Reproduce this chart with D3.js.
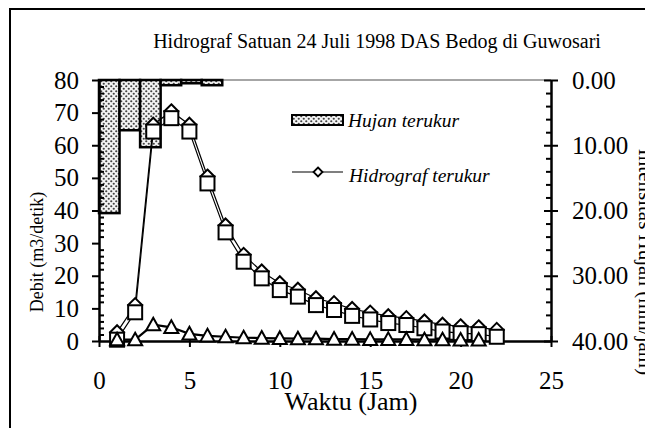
<!DOCTYPE html>
<html><head><meta charset="utf-8">
<script src="https://cdn.jsdelivr.net/npm/d3@7"></script>
<style>body{margin:0;background:#fff}svg{display:block}</style>
</head><body>
<svg id="c" width="645" height="428"></svg>
<script>
// ---- data ----
const hours = [1,2,3,4,5,6,7,8,9,10,11,12,13,14,15,16,17,18,19,20,21,22];
const hidrografTerukur = [2.7,11.0,66.3,70.4,66.3,50.4,35.4,26.4,21.3,17.7,15.7,13.1,11.6,9.8,8.7,7.6,7.0,6.0,5.0,4.5,4.2,3.4];
const hidrografSquare  = [0.4,8.8,64.2,68.3,64.2,48.3,33.3,24.3,19.2,15.6,13.6,11.0,9.5,7.7,6.6,5.5,4.9,3.9,2.9,2.4,2.1,1.3];
const hoursTri = [1,2,3,4,5,6,7,8,9,10,11,12,13,14,15,16,17,18,19,20,21];
const hidrografTri = [0.4,0.4,5.0,4.2,2.2,1.6,1.3,1.0,0.9,0.8,0.7,0.7,0.6,0.6,0.5,0.5,0.5,0.4,0.4,0.3,0.3];
const rainPeriods = [1,2,3,4,5,6,7,8,9,10,11,12,13,14,15,16,17,18,19,20,21,22];
const rainValues = [20.4,7.7,10.3,0.8,0.5,0.8,0,0,0,0,0,0,0,0,0,0,0,0,0,0,0,0];
const xTicks = [0,5,10,15,20,25];
const yLeftTicks = [0,10,20,30,40,50,60,70,80];
const yRightTicks = [0,10,20,30,40];
const title = "Hidrograf Satuan 24 Juli 1998 DAS Bedog di Guwosari";

// ---- layout ----
const L = 99, R = 551, T = 80, B = 341;
const svg = d3.select("#c");
const font = "'Liberation Serif','Times New Roman',serif";

const x = d3.scaleLinear().domain([0,25]).range([L,R]);
const yL = d3.scaleLinear().domain([0,80]).range([B,T]);
const yR = d3.scaleLinear().domain([0,40]).range([T,B]);
const xb = d3.scaleBand().domain(rainPeriods).range([L,R]).padding(0);

// pattern
const defs = svg.append("defs");
const pat = defs.append("pattern").attr("id","dots").attr("patternUnits","userSpaceOnUse")
  .attr("width",5).attr("height",5);
pat.append("rect").attr("width",5).attr("height",5).attr("fill","#f4f4f4");
pat.append("circle").attr("cx",1.25).attr("cy",1.25).attr("r",1.1).attr("fill","#444");
pat.append("circle").attr("cx",3.75).attr("cy",3.75).attr("r",1.1).attr("fill","#444");

// outer frame (cropped on right and bottom)
svg.append("rect").attr("x",10).attr("y",9).attr("width",660).attr("height",440)
  .attr("fill","none").attr("stroke","#000").attr("stroke-width",2);

// title
svg.append("text").attr("x",377).attr("y",48).attr("text-anchor","middle")
  .style("font-family",font).style("font-size","20px").text(title);

// top line
svg.append("line").attr("x1",L).attr("x2",R).attr("y1",T).attr("y2",T)
  .attr("stroke","#888").attr("stroke-width",1.5);

// rain bars
svg.append("g").selectAll("rect").data(rainPeriods.map((p,i)=>({p,v:rainValues[i]})).filter(d=>d.v>0))
  .join("rect")
  .attr("x",d=>xb(d.p)).attr("width",xb.bandwidth())
  .attr("y",yR(0)).attr("height",d=>yR(d.v)-yR(0))
  .attr("fill","url(#dots)").attr("stroke","#000").attr("stroke-width",2.5);

// axes
function styleAxis(g){ g.select(".domain").attr("stroke","#000").attr("stroke-width",2.5);
  g.selectAll(".tick line").attr("stroke","#000").attr("stroke-width",2);
  g.selectAll("text").style("font-family",font).style("font-size","25px").attr("fill","#000"); }
const minorL = d3.range(0,81,2).filter(v=>v%10!==0);
svg.append("g").attr("transform",`translate(${L},0)`)
  .call(d3.axisRight(yL).tickValues(minorL).tickSize(5).tickSizeOuter(0).tickFormat(""))
  .call(styleAxis).call(g=>g.select(".domain").remove());
svg.append("g").attr("transform",`translate(${L},0)`)
  .call(d3.axisLeft(yL).tickValues(yLeftTicks).tickSize(7).tickSizeOuter(0).tickPadding(13).tickFormat(d3.format("d")))
  .call(styleAxis);

const minorR = d3.range(0,41,2).filter(v=>v%10!==0);
svg.append("g").attr("transform",`translate(${R},0)`)
  .call(d3.axisLeft(yR).tickValues(minorR).tickSize(5).tickSizeOuter(0).tickFormat(""))
  .call(styleAxis).call(g=>g.select(".domain").remove());
svg.append("g").attr("transform",`translate(${R},0)`)
  .call(d3.axisLeft(yR).tickValues(yRightTicks).tickSize(7).tickSizeOuter(0).tickFormat(""))
  .call(styleAxis).call(g=>g.select(".domain").remove());
svg.append("g").attr("transform",`translate(${R},0)`)
  .call(d3.axisRight(yR).tickValues(yRightTicks).tickSize(7).tickSizeOuter(0).tickPadding(14).tickFormat(d3.format(".2f")))
  .call(styleAxis);

svg.append("g").attr("transform",`translate(0,${B})`)
  .call(d3.axisTop(x).tickValues(xTicks).tickSize(5).tickSizeOuter(0).tickFormat(""))
  .call(styleAxis).call(g=>g.select(".domain").remove());
svg.append("g").attr("transform",`translate(0,${B})`)
  .call(d3.axisBottom(x).tickValues(xTicks).tickSize(6).tickSizeOuter(0).tickPadding(24).tickFormat(d3.format("d")))
  .call(styleAxis);

// axis titles
svg.append("text").attr("x",351).attr("y",410).attr("text-anchor","middle")
  .style("font-family",font).style("font-size","26px").text("Waktu (Jam)");
svg.append("text").attr("transform","translate(43,252) rotate(-90)").attr("text-anchor","middle")
  .style("font-family",font).style("font-size","18px").text("Debit (m3/detik)");
svg.append("text").attr("transform","translate(639,262) rotate(90)").attr("text-anchor","middle")
  .style("font-family",font).style("font-size","21px").text("Intensitas Hujan (mm/jam)");

// lines
const line = (xs,ys)=>d3.line().x((d,i)=>x(xs[i])).y(d=>yL(d))(ys);
svg.append("path").attr("d",line(hours,hidrografTerukur)).attr("fill","none").attr("stroke","#000").attr("stroke-width",1.2);
svg.append("path").attr("d",line(hours,hidrografSquare)).attr("fill","none").attr("stroke","#000").attr("stroke-width",1.2);
svg.append("path").attr("d",line(hoursTri,hidrografTri)).attr("fill","none").attr("stroke","#000").attr("stroke-width",2.2);

// diamond markers
const dm = 7;
svg.append("g").selectAll("path").data(hidrografTerukur).join("path")
  .attr("d",(d,i)=>{const cx=x(hours[i]), cy=yL(d); return `M${cx},${cy-dm}L${cx+dm},${cy}L${cx},${cy+dm}L${cx-dm},${cy}Z`;})
  .attr("fill","#fff").attr("stroke","#000").attr("stroke-width",2);
// square markers
const sq = 7;
svg.append("g").selectAll("rect").data(hidrografSquare).join("rect")
  .attr("x",(d,i)=>x(hours[i])-sq).attr("y",d=>yL(d)-sq).attr("width",sq*2).attr("height",sq*2)
  .attr("fill","#fff").attr("stroke","#000").attr("stroke-width",2);
// triangle markers
const tr = 7;
svg.append("g").selectAll("path").data(hidrografTri).join("path")
  .attr("d",(d,i)=>{const cx=x(hoursTri[i]), cy=yL(d); return `M${cx},${cy-tr}L${cx+tr},${cy+tr*0.8}L${cx-tr},${cy+tr*0.8}Z`;})
  .attr("fill","#fff").attr("stroke","#000").attr("stroke-width",2).attr("stroke-linejoin","miter");

// legend
const lg = svg.append("g");
lg.append("rect").attr("x",292).attr("y",115).attr("width",51).attr("height",10)
  .attr("fill","url(#dots)").attr("stroke","#000").attr("stroke-width",2);
lg.append("text").attr("x",348).attr("y",127).style("font-family",font).style("font-style","italic")
  .style("font-size","19.5px").text("Hujan terukur");
lg.append("line").attr("x1",292).attr("x2",343).attr("y1",172).attr("y2",172).attr("stroke","#000").attr("stroke-width",1.2);
lg.append("path").attr("d","M318,167.5L322.5,172L318,176.5L313.5,172Z").attr("fill","#fff").attr("stroke","#000").attr("stroke-width",1.8);
lg.append("text").attr("x",349).attr("y",182).style("font-family",font).style("font-style","italic")
  .style("font-size","19.5px").text("Hidrograf terukur");
</script>
</body></html>
